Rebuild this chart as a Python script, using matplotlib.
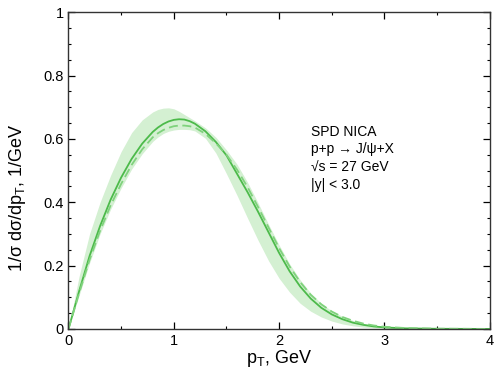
import numpy as np
import matplotlib.pyplot as plt
from matplotlib.ticker import MultipleLocator, FormatStrFormatter

plt.rcParams['font.family'] = ['Liberation Sans', 'DejaVu Sans']

# pT grid, GeV
pt = [0.0, 0.1, 0.2, 0.3, 0.4, 0.5, 0.6, 0.7, 0.8, 0.85, 0.9, 0.95, 1.0, 1.05,
      1.1, 1.15, 1.2, 1.3, 1.4, 1.5, 1.6, 1.7, 1.8, 1.9, 2.0, 2.1, 2.2, 2.3,
      2.4, 2.5, 2.6, 2.7, 2.8, 2.9, 3.0, 3.2, 3.5, 4.0]

solid = [0.0, 0.118, 0.23, 0.325, 0.408, 0.478, 0.537, 0.585, 0.622, 0.636,
         0.647, 0.655, 0.66, 0.662, 0.661, 0.656, 0.648, 0.624, 0.59, 0.548,
         0.49, 0.432, 0.37, 0.305, 0.24, 0.182, 0.134, 0.096, 0.067, 0.046,
         0.031, 0.02, 0.013, 0.008, 0.005, 0.002, 0.0007, 0.0001]

dashed = [0.0, 0.112, 0.218, 0.31, 0.39, 0.458, 0.518, 0.567, 0.605, 0.618,
          0.628, 0.635, 0.64, 0.642, 0.642, 0.64, 0.636, 0.616, 0.586, 0.55,
          0.503, 0.448, 0.385, 0.32, 0.255, 0.197, 0.148, 0.108, 0.078, 0.055,
          0.038, 0.026, 0.017, 0.011, 0.007, 0.003, 0.001, 0.0002]

band_hi = [0.0, 0.165, 0.3, 0.4, 0.485, 0.56, 0.62, 0.66, 0.685, 0.693, 0.697,
           0.698, 0.695, 0.687, 0.677, 0.667, 0.657, 0.635, 0.605, 0.565, 0.52,
           0.463, 0.398, 0.33, 0.265, 0.205, 0.155, 0.113, 0.081, 0.057, 0.04,
           0.027, 0.018, 0.012, 0.008, 0.0035, 0.0012, 0.0002]

band_lo = [0.0, 0.105, 0.208, 0.3, 0.378, 0.445, 0.505, 0.553, 0.592, 0.606,
           0.617, 0.624, 0.628, 0.63, 0.63, 0.629, 0.625, 0.602, 0.555, 0.49,
           0.422, 0.35, 0.28, 0.215, 0.16, 0.116, 0.081, 0.056, 0.038, 0.025,
           0.016, 0.01, 0.006, 0.004, 0.0025, 0.001, 0.0003, 0.0]

fig = plt.figure(figsize=(4.98, 3.68), dpi=100)
ax = fig.add_axes([0.1375, 0.106, 0.846, 0.861])

ax.fill_between(pt, band_lo, band_hi, color='#d4f0d2', lw=0)
ax.plot(pt, solid, color='#4cba4a', lw=1.3)
ax.plot(pt, dashed, color='#7fd27c', lw=1.3, ls=(0, (5, 2.5)))

ax.set_xlim(0, 4)
ax.set_ylim(0, 1)
ax.xaxis.set_major_locator(MultipleLocator(1))
ax.xaxis.set_minor_locator(MultipleLocator(0.5))
ax.yaxis.set_major_locator(MultipleLocator(0.2))
ax.yaxis.set_minor_locator(MultipleLocator(0.05))
ax.yaxis.set_major_formatter(FormatStrFormatter('%g'))
ax.tick_params(which='both', direction='in', top=True, right=True, labelsize=10.5)
ax.tick_params(which='major', length=5, width=0.9)
ax.tick_params(which='minor', length=2.5, width=0.8)
for s in ax.spines.values():
    s.set_linewidth(1.0)
    s.set_color('#333333')

ax.set_xlabel('p$_\\mathregular{T}$, GeV', fontsize=13, labelpad=0)
ax.set_ylabel('1/σ dσ/dp$_\\mathregular{T}$, 1/GeV', fontsize=13)
ax.yaxis.set_label_coords(-0.095, 0.415)

ax.text(2.30, 0.645, 'SPD NICA\np+p → J/ψ+X\n√s = 27 GeV\n|y| < 3.0',
        fontsize=10, va='top', ha='left', linespacing=1.35)

fig.savefig('out.png', dpi=100)
